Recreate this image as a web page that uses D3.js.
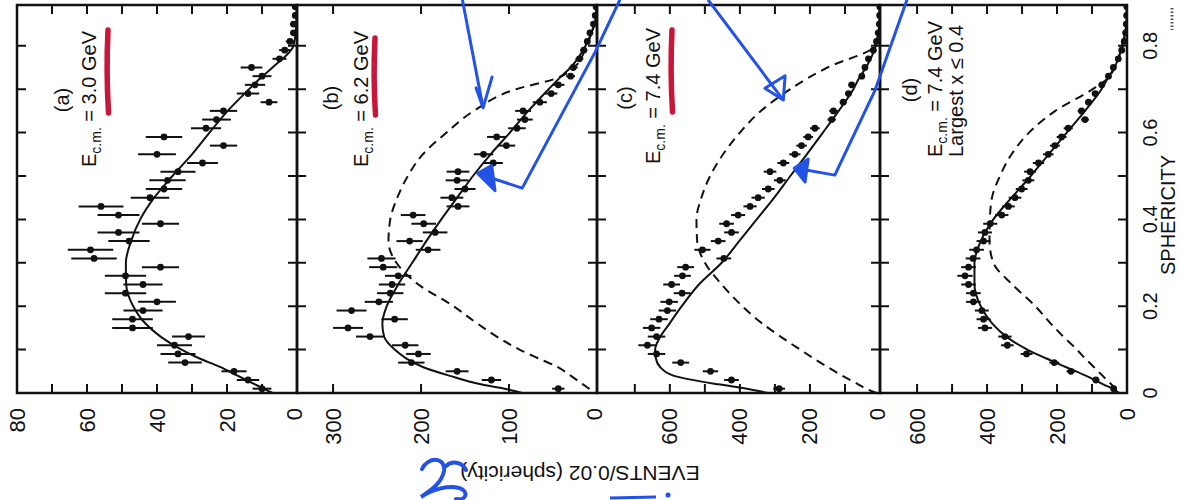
<!DOCTYPE html>
<html>
  <head>
    <meta charset="utf-8">
    <title>Sphericity distributions</title>
    <script src="https://cdn.jsdelivr.net/npm/d3@7"></script>
    <style>
      body { margin: 0; background: #fff; }
      svg { display: block; font-family: "Liberation Sans", Arial, Helvetica, sans-serif; }
    </style>
  </head>
  <body>
    <svg id="chart" width="1180" height="500"></svg>

    <script>
      // sphericity bins (0.02 wide)
      const sphBins = [0.01, 0.03, 0.05, 0.07, 0.09, 0.11, 0.13, 0.15, 0.17, 0.19,
        0.21, 0.23, 0.25, 0.27, 0.29, 0.31, 0.33, 0.35, 0.37, 0.39,
        0.41, 0.43, 0.45, 0.47, 0.49, 0.51, 0.53, 0.55, 0.57, 0.59,
        0.61, 0.63, 0.65, 0.67, 0.69, 0.71, 0.73, 0.75, 0.77, 0.79,
        0.81, 0.83, 0.85, 0.87, 0.89];

      // events / 0.02, with errors
      const eventsA = [10, 14, 18, 32, 34, 35, 31, 47, 47, 44, 40, 49, 44, 49, 39, 58, 59, 48, 51, 39,
        51, 56, 42, 38, 37, 34, 27, 40, 21, 38, 26, 23, 21, 8, 14, 12, 10, 13, 5, 3.5, 2, 1, 1, 0.5, 0.5];
      const errA = [2.7, 3.2, 3.6, 4.8, 5, 5, 4.7, 5.8, 5.8, 5.6, 5.4, 5.9, 5.6, 5.9, 5.3, 6.5, 6.5, 5.9, 6, 5.3,
        6, 6.4, 5.5, 5.2, 5.2, 5, 4.4, 5.4, 3.9, 5.2, 4.3, 4.1, 3.9, 2.4, 3.2, 2.9, 2.7, 3.1, 2, 1.6, 1.2, 1, 1, 0.8, 0.8];
      const eventsB = [44, 120, 159, 211, 203, 218, 258, 283, 230, 279, 248, 235, 233, 226, 243, 245, 192, 213, 184, 197,
        209, 158, 165, 150, 159, 158, 118, 129, 103, 114, 91, 82, 84, 65, 52, 44, 30, 27, 20, 15, 11, 8, 4, 2, 1];
      const errB = [7, 11, 13, 15, 14, 15, 16, 17, 15, 17, 16, 15, 15, 15, 16, 16, 14, 15, 14, 14,
        14, 13, 13, 12, 13, 13, 11, 11, 10, 11, 10, 9, 9, 8, 7, 7, 5, 5, 4.5, 4, 3, 3, 2, 1.5, 1];
      const eventsC = [288, 424, 484, 569, 638, 664, 638, 652, 631, 607, 602, 565, 595, 564, 555, 446, 507, 462, 424, 438,
        405, 371, 348, 319, 286, 314, 276, 243, 224, 205, 186, 138, 133, 105, 90, 81, 52, 43, 33, 19, 10, 5, 2, 1, 0.5];
      const errC = [17, 21, 22, 24, 25, 26, 25, 25, 25, 25, 25, 24, 24, 24, 24, 21, 23, 21, 21, 21,
        20, 19, 19, 18, 17, 18, 17, 16, 15, 14, 14, 12, 12, 10, 9.5, 9, 7, 6.5, 6, 4.5, 3, 2, 1.5, 1, 0.7];
      const eventsD = [38, 89, 160, 208, 287, 342, 349, 406, 410, 415, 439, 439, 453, 463, 453, 440, 430, 410, 406, 391,
        358, 339, 320, 301, 282, 277, 253, 225, 206, 187, 168, 120, 130, 110, 91, 72, 53, 39, 25, 15, 8, 4, 2, 1, 0.5];
      const errD = [7, 10, 13, 14, 17, 18, 19, 20, 20, 20, 21, 21, 21, 22, 21, 21, 21, 20, 20, 20,
        19, 18, 18, 17, 17, 17, 16, 15, 14, 14, 13, 11, 11, 10, 9.5, 8.5, 7, 6, 5, 4, 3, 2, 1.5, 1, 0.7];

      // model curves (solid = fit, dashed = phase space)
      const fitS = [0, 0.01, 0.02, 0.04, 0.06, 0.08, 0.1, 0.13, 0.16, 0.2, 0.25, 0.3, 0.35,
        0.4, 0.45, 0.5, 0.55, 0.6, 0.65, 0.7, 0.725, 0.75, 0.8, 0.85, 0.89];
      const fitA = [7, 9.5, 12, 17, 22, 28, 33, 39, 43.3, 46.8, 48.8, 48.9, 47.4,
        44.8, 40.8, 35.6, 30, 25, 19.8, 13.7, 10.5, 7, 1, 0.2, 0.1];
      const fitB = [85, 105, 132, 168, 198, 217, 230, 242, 244, 239, 226, 210, 194,
        177, 159, 141, 121, 99, 78, 55, 43, 30, 13, 3, 0.3];
      const dashB = [3, 9, 16, 30, 45, 67, 88, 114, 136, 163, 203, 228, 237,
        235, 227, 215, 198, 171, 140, 92, 46, 26, 12, 3, 0.5];
      const fitC = [320, 380, 462, 590, 628, 640, 642, 627, 601, 566, 517, 452, 402,
        352, 302, 256, 209, 163, 118, 76, 60, 40, 12, 2, 0.5];
      const dashC = [10, 40, 62, 108, 150, 190, 228, 284, 336, 393, 452, 500, 522,
        524, 510, 485, 448, 400, 340, 256, 207, 150, 15, 2, 0.5];
      const fitD = [22, 42, 68, 118, 175, 232, 285, 345, 385, 418, 436, 436, 418,
        382, 330, 275, 224, 172, 120, 73, 55, 36, 14, 2, 0.5];
      const dashD = [22, 32, 45, 70, 95, 120, 143, 182, 218, 262, 328, 382, 393,
        392, 386, 363, 330, 280, 205, 98, 55, 35, 14, 2, 0.5];

      // axes
      const panelMax = [80, 341, 808, 706];
      const tickStep = [10, 100, 100, 100];
      const tickLabels = [[0, 20, 40, 60, 80], [0, 100, 200, 300], [0, 200, 400, 600], [0, 200, 400, 600]];
      const sphTicks = [0.1, 0.2, 0.3, 0.4, 0.5, 0.6, 0.7, 0.8];
      const sphLabels = [0, 0.2, 0.4, 0.6, 0.8];
      const panelTags = ["(a)", "(b)", "(c)", "(d)"];
      const energies = ["3.0", "6.2", "7.4", "7.4"];

      // hand-drawn arrows, [events, sphericity] in the panel they point into
      const arrows = [
        { panel: 1, line: [[153, 0.906], [129.5, 0.657]], head: [[137.5, 0.703], [129.5, 0.657], [119.3, 0.728]], kind: "open" },
        { panel: 1, line: [[-26, 0.906], [2, 0.786], [85, 0.472], [130, 0.502]], head: [[135.6, 0.506], [119.7, 0.524], [115.9, 0.466]], kind: "fill" },
        { panel: 2, line: [[491, 0.906], [276, 0.675]], head: [[328.6, 0.702], [271, 0.731], [276, 0.675]], kind: "tri" },
        { panel: 2, line: [[-77, 0.906], [14, 0.698], [129, 0.502], [240, 0.518]], head: [[245, 0.518], [205, 0.539], [214, 0.486]], kind: "fill" }
      ];

      const series = [
        { ev: eventsA, err: errA, fit: fitA, dash: null },
        { ev: eventsB, err: errB, fit: fitB, dash: dashB },
        { ev: eventsC, err: errC, fit: fitC, dash: dashC },
        { ev: eventsD, err: errD, fit: fitD, dash: dashD }
      ];

      // layout
      svg = d3.select("#chart");
      edges = [17, 297, 597, 880, 1127];
      frameTop = 5;
      frameBottom = 393;
      ink = "#111";
      blue = "#2352e6";
      red = "#c8173a";

      sph = d3.scaleLinear().domain([0, 0.894]).range([frameBottom, frameTop]);
      xs = panelMax.map(function(m, i) {
        return d3.scaleLinear().domain([0, m]).range([edges[i + 1], edges[i]]);
      });

      defs = svg.append("defs");
      series.forEach(function(d, i) {
        defs.append("clipPath").attr("id", "clip" + i)
          .append("rect")
            .attr("x", edges[i]).attr("y", frameTop)
            .attr("width", edges[i + 1] - edges[i])
            .attr("height", frameBottom - frameTop);
      });

      function vtext(g, x, y, str, size, anchor) {
        return g.append("text")
          .attr("transform", "translate(" + x + "," + y + ") rotate(-90)")
          .attr("text-anchor", anchor)
          .attr("dominant-baseline", "central")
          .attr("font-size", size)
          .attr("fill", ink)
          .text(str);
      }

      // panels
      series.forEach(function(d, i) {
        x = xs[i];
        g = svg.append("g").attr("clip-path", "url(#clip" + i + ")");
        pts = sphBins.map(function(s, j) { return { s: s, e: d.ev[j], err: d.err[j] }; });

        line = d3.line()
          .x(function(p) { return x(p[1]); })
          .y(function(p) { return sph(p[0]); })
          .curve(d3.curveMonotoneY);

        if (d.dash) {
          g.append("path")
            .datum(fitS.map(function(s, j) { return [s, d.dash[j]]; }).reverse())
            .attr("d", line)
            .attr("fill", "none")
            .attr("stroke", ink)
            .attr("stroke-width", 2)
            .attr("stroke-dasharray", "9,6");
        }
        g.append("path")
          .datum(fitS.map(function(s, j) { return [s, d.fit[j]]; }).reverse())
          .attr("d", line)
          .attr("fill", "none")
          .attr("stroke", ink)
          .attr("stroke-width", 2);

        g.selectAll(".bar")
          .data(pts)
          .enter().append("line")
            .attr("x1", function(p) { return x(p.e - p.err); })
            .attr("x2", function(p) { return x(p.e + p.err); })
            .attr("y1", function(p) { return sph(p.s); })
            .attr("y2", function(p) { return sph(p.s); })
            .attr("stroke", ink)
            .attr("stroke-width", 2);
        g.selectAll(".dot")
          .data(pts)
          .enter().append("circle")
            .attr("cx", function(p) { return x(p.e); })
            .attr("cy", function(p) { return sph(p.s); })
            .attr("r", 3.4)
            .attr("fill", ink);

        // frame and ticks
        f = svg.append("g");
        f.append("rect")
          .attr("x", edges[i]).attr("y", frameTop)
          .attr("width", edges[i + 1] - edges[i])
          .attr("height", frameBottom - frameTop)
          .attr("fill", "none")
          .attr("stroke", ink)
          .attr("stroke-width", 2.5);

        evTicks = d3.range(tickStep[i], panelMax[i], tickStep[i])
          .filter(function(v) { return x(v) > edges[i] + 5; });
        f.selectAll(".tb")
          .data(evTicks)
          .enter().append("path")
            .attr("d", function(v) {
              return "M" + x(v) + "," + frameBottom + "v-9M" + x(v) + "," + frameTop + "v9";
            })
            .attr("stroke", ink)
            .attr("stroke-width", 2);
        f.selectAll(".ts")
          .data(sphTicks)
          .enter().append("path")
            .attr("d", function(s) {
              return "M" + edges[i] + "," + sph(s) + "h9M" + edges[i + 1] + "," + sph(s) + "h-9";
            })
            .attr("stroke", ink)
            .attr("stroke-width", 2);

        tickLabels[i].forEach(function(v) {
          vtext(svg, x(v) - (v === 0 && i < 3 ? 3 : 0), 408, v, 22, "end");
        });
      });

      // sphericity axis
      sphLabels.forEach(function(s) {
        vtext(svg, 1150, sph(s), s === 0 ? "0" : s.toFixed(1), 20, "middle");
      });
      vtext(svg, 1168, 215, "SPHERICITY", 20, "middle");

      // events axis title, upside down
      svg.append("text")
        .attr("transform", "translate(580,473) rotate(180)")
        .attr("text-anchor", "middle")
        .attr("dominant-baseline", "central")
        .attr("font-size", 21)
        .attr("fill", ink)
        .text("EVENTS/0.02 (sphericity)");

      // panel annotations
      tagPos = [[62, 100], [331, 98], [625, 98], [910, 90]];
      energyPos = [[96, 167], [368, 167], [660, 164], [942, 157]];
      panelTags.forEach(function(t, i) {
        vtext(svg, tagPos[i][0], tagPos[i][1], t, 20, "middle");
        t = svg.append("text")
          .attr("transform", "translate(" + energyPos[i][0] + "," + energyPos[i][1] + ") rotate(-90)")
          .attr("font-size", 20)
          .attr("fill", ink);
        t.append("tspan").text("E");
        t.append("tspan").attr("dy", 5).attr("font-size", 14).text("c.m.");
        t.append("tspan").attr("dy", -5).text(" = " + energies[i] + " GeV");
      });
      svg.append("text")
        .attr("transform", "translate(963,157) rotate(-90)")
        .attr("font-size", 20)
        .attr("fill", ink)
        .text("Largest x \u2264 0.4");

      // red underlines
      redMarks = [[108, 30, 113], [375, 38, 115], [672, 30, 112]];
      svg.selectAll(".red")
        .data(redMarks)
        .enter().append("path")
          .attr("d", function(r) {
            return "M" + r[0] + "," + r[1] + "Q" + (r[0] - 2) + "," + ((r[1] + r[2]) / 2) + " " + (r[0] + 0.5) + "," + r[2];
          })
          .attr("fill", "none")
          .attr("stroke", red)
          .attr("stroke-width", 5.5)
          .attr("stroke-linecap", "round");

      // blue arrows
      arrows.forEach(function(a) {
        x = xs[a.panel];
        toPx = function(p) { return [x(p[0]), sph(p[1])]; };
        svg.append("path")
          .attr("d", d3.line()(a.line.map(toPx)))
          .attr("fill", "none")
          .attr("stroke", blue)
          .attr("stroke-width", 3)
          .attr("stroke-linejoin", "round");
        head = a.head.map(toPx);
        svg.append("path")
          .attr("d", d3.line()(head) + (a.kind === "open" ? "" : "Z"))
          .attr("fill", a.kind === "fill" ? blue : "none")
          .attr("stroke", blue)
          .attr("stroke-width", 3)
          .attr("stroke-linejoin", "round")
          .attr("stroke-linecap", "round");
      });

      // scribbles near the axis title
      svg.append("path")
        .attr("d", "M422,469 C428,456 446,457 444,471 C442,483 430,491 421,497 C433,489 449,485 459,488 C469,491 467,501 456,499 M446,466 C452,460 462,462 466,470")
        .attr("fill", "none")
        .attr("stroke", blue)
        .attr("stroke-width", 4)
        .attr("stroke-linecap", "round");
      svg.append("path")
        .attr("d", "M610,498 L656,497")
        .attr("stroke", blue)
        .attr("stroke-width", 3);
      svg.append("circle")
        .attr("cx", 668).attr("cy", 495).attr("r", 2.5)
        .attr("fill", blue);

      // scan mark, top right
      svg.append("path")
        .attr("d", "M1172,8 V30")
        .attr("stroke", "#555")
        .attr("stroke-width", 3)
        .attr("stroke-dasharray", "1.5,2");
    </script>
  </body>
</html>
